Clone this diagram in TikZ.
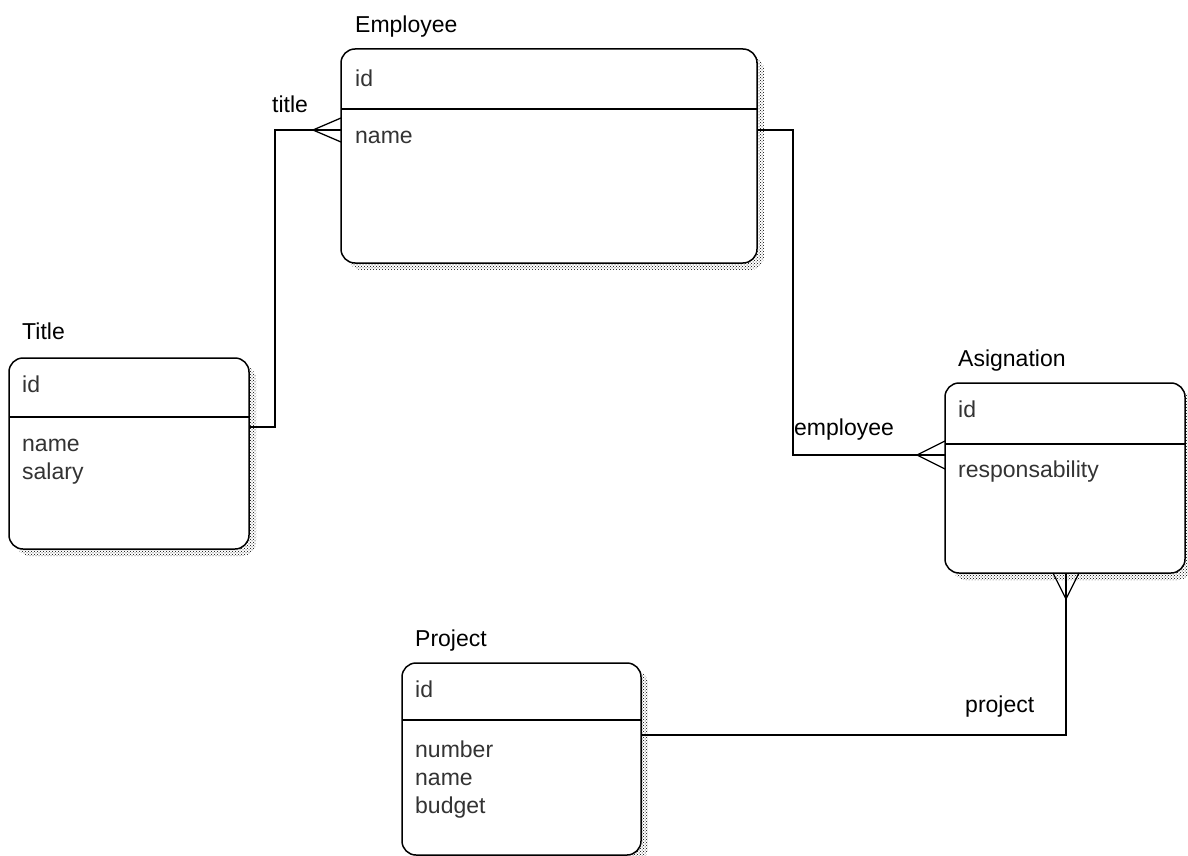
\documentclass[tikz,border=0pt]{standalone}
\usepackage{fontspec}
\setmainfont{Liberation Sans}
\usetikzlibrary{calc,patterns,shadows}
\colorlet{field text color}{black!80}
\colorlet{shadow dot color}{black}
\tikzset{
    x={1pt},
    y={-1pt},
    entity/.style={
        draw=black, fill=white,
        line width={1.5pt},
        rounded corners={14pt},
        anchor=north west,
        inner sep=0pt, outer sep=0pt,
        general shadow={
            shadow xshift=7pt, shadow yshift=-7pt,
            pattern=crosshatch dots, pattern color=shadow dot color,
        },
    },
    entity label/.style={
        anchor=base west,
        inner sep=0pt,
        font={\fontsize{23}{28}\selectfont},
    },
    field/.style={
        entity label,
        text=field text color,
    },
    divider/.style={
        draw=black,
        line width={1.5pt},
    },
    relation/.style={
        draw=black,
        line width={1.3pt},
    },
    relation label/.style={
        entity label,
    },
}

\begin{document}
\begin{tikzpicture}
\useasboundingbox (0,0) rectangle (1188,856);
% entities
\node[entity, minimum width={416}, minimum height={214}] (employee) at (341,49) {};
\node[entity, minimum width={240}, minimum height={191}] (title) at (9,358) {};
\node[entity, minimum width={240}, minimum height={190}] (asignation) at (945,383) {};
\node[entity, minimum width={239}, minimum height={192}] (project) at (402,663) {};
% dividers
\path[divider] ($(employee.north west)+(0,60)$) -- ($(employee.north east)+(0,60)$);
\path[divider] ($(title.north west)+(0,59)$) -- ($(title.north east)+(0,59)$);
\path[divider] ($(asignation.north west)+(0,61)$) -- ($(asignation.north east)+(0,61)$);
\path[divider] ($(project.north west)+(0,57)$) -- ($(project.north east)+(0,57)$);
% labels and fields
\node[entity label] (employee label) at (355,33) {Employee};
\node[field] (employee id) at (355,87) {id};
\node[field] (employee name) at (355,143) {name};
\node[entity label] (title label) at (22,339) {Title};
\node[field] (title id) at (22,392) {id};
\node[field] (title name) at (22,451) {name};
\node[field] (title salary) at (22,479) {salary};
\node[entity label] (asignation label) at (958,366) {Asignation};
\node[field] (asignation id) at (958,417) {id};
\node[field] (asignation responsability) at (958,477) {responsability};
\node[entity label] (project label) at (415,646) {Project};
\node[field] (project id) at (415,697) {id};
\node[field] (project number) at (415,757) {number};
\node[field] (project name) at (415,785) {name};
\node[field] (project budget) at (415,813) {budget};
% relations
\coordinate (title out) at (title.north east |- 0,427);
\coordinate (employee in) at (employee.north west |- 0,130);
\coordinate (employee out) at (employee.north east |- 0,130);
\coordinate (asignation in) at (asignation.north west |- 0,455);
\coordinate (asignation bottom) at (1066,0 |- asignation.south);
\coordinate (project out) at (project.north east |- 0,735);
\path[relation] (title out) -- ++(26,0) |- (employee in);
\path[relation] (employee out) -- ++(36,0) |- (asignation in);
\path[relation] (project out) -| (asignation bottom);
% crow's feet
\path[relation] ($(employee in)+(0,-12)$) -- ($(employee in)+(-28,0)$) -- ($(employee in)+(0,12)$);
\path[relation] ($(asignation in)+(0,-14)$) -- ($(asignation in)+(-28,0)$) -- ($(asignation in)+(0,14)$);
\path[relation] ($(asignation bottom)+(-13,0)$) -- ($(asignation bottom)+(0,26)$) -- ($(asignation bottom)+(13,0)$);
\node[relation label] (title rel) at (272,113) {title};
\node[relation label] (employee rel) at (794,435) {employee};
\node[relation label] (project rel) at (965,712) {project};
\end{tikzpicture}
\end{document}
